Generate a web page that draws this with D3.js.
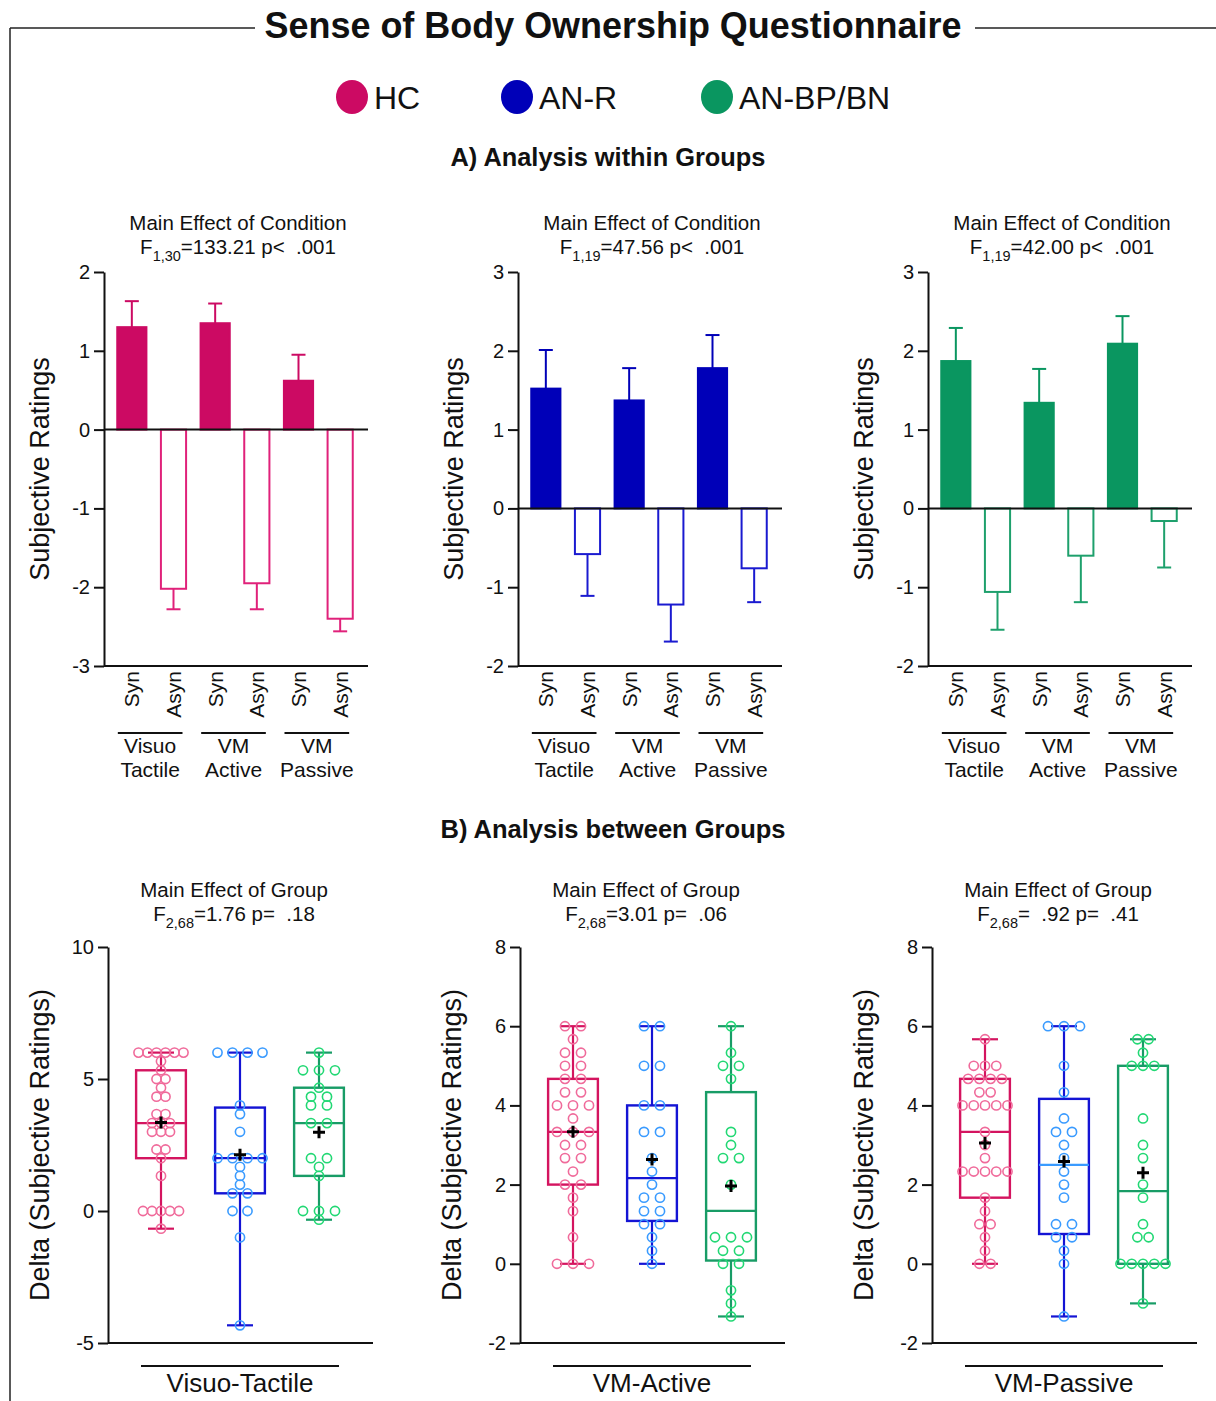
<!DOCTYPE html>
<html>
<head>
<meta charset="utf-8">
<script src="https://cdn.jsdelivr.net/npm/d3@7"></script>
<style>
    body { margin: 0; background: #fff; }
    svg { display: block; font-family: 'Liberation Sans', Arial, sans-serif; }
    text { white-space: pre; fill: #111; }
</style>
</head>
<body>
<svg id="chart" width="1216" height="1401"></svg>
<script>
// ---- data ----
let groups = ['HC', 'AN-R', 'AN-BP/BN']
let conditions = [['Visuo', 'Tactile'], ['VM', 'Active'], ['VM', 'Passive']]
let syncTypes = ['Syn', 'Asyn']

// A) within groups: mean and SEM per group, order VT, VM-Active, VM-Passive
let synMeans = [[1.30, 1.35, 0.62], [1.52, 1.37, 1.78], [1.87, 1.34, 2.09]]
let synSem = [[0.33, 0.25, 0.33], [0.49, 0.41, 0.42], [0.42, 0.43, 0.35]]
let asynMeans = [[-2.02, -1.95, -2.40], [-0.58, -1.22, -0.76], [-1.06, -0.60, -0.16]]
let asynSem = [[0.26, 0.33, 0.16], [0.53, 0.47, 0.43], [0.48, 0.59, 0.59]]
let barDomains = [[-3, 2], [-2, 3], [-2, 3]]
let conditionStats = [['1,30', '=133.21 p<  .001'], ['1,19', '=47.56 p<  .001'], ['1,19', '=42.00 p<  .001']]

// B) between groups: individual deltas (Syn - Asyn)
let deltaConditions = ['Visuo-Tactile', 'VM-Active', 'VM-Passive']
let vtHC = [6, 6, 6, 6, 6, 6, 5.67, 5.33, 5, 5, 4.67, 4.33, 4.33, 3.67, 3.67, 3.33, 3.33, 3.33, 3, 3, 3, 2.33, 2.33, 2, 1.33, 0, 0, 0, 0, 0, -0.67]
let vtANR = [6, 6, 6, 6, 4, 3.67, 3, 2, 2, 2, 2, 1.67, 1.33, 1, 0.67, 0.67, 0, 0, -1, -4.33]
let vtBP = [6, 5.33, 5.33, 5.33, 4.67, 4.33, 4.33, 4, 4, 3.33, 3.33, 2, 2, 1.67, 1.33, 0, 0, 0, -0.33]
let vmaHC = [6, 6, 5.67, 5.33, 5.33, 5, 5, 4.67, 4.67, 4.33, 4.33, 4, 4, 4, 3.67, 3.33, 3.33, 3.33, 3, 3, 2.67, 2.67, 2.33, 2, 2, 1.67, 1.33, 0.67, 0, 0, 0]
let vmaANR = [6, 6, 5, 5, 4, 4, 3.33, 3.33, 2.67, 2.33, 2, 1.67, 1.67, 1.33, 1.33, 1, 1, 0.67, 0.33, 0]
let vmaBP = [6, 5.33, 5, 5, 4.67, 3.33, 3, 2.67, 2.67, 2, 0.67, 0.67, 0.67, 0.33, 0.33, 0, 0, -0.67, -1, -1.33]
let vmpHC = [5.67, 5, 5, 5, 4.67, 4.67, 4.67, 4.67, 4.33, 4.33, 4, 4, 4, 4, 4, 3.33, 3, 2.67, 2.33, 2.33, 2.33, 2.33, 2.33, 1.67, 1.33, 1, 1, 0.67, 0.33, 0, 0]
let vmpANR = [6, 6, 6, 5, 4.33, 3.67, 3.33, 3.33, 3, 2.67, 2.33, 2, 1.67, 1, 1, 0.67, 0.67, 0.33, 0, -1.33]
let vmpBP = [5.67, 5.67, 5.33, 5, 5, 5, 3.67, 3, 2.67, 2, 1.67, 1, 0.67, 0.67, 0, 0, 0, 0, 0, -1]
let deltaData = [[vtHC, vtANR, vtBP], [vmaHC, vmaANR, vmaBP], [vmpHC, vmpANR, vmpBP]]
let deltaDomains = [[-5, 10], [-2, 8], [-2, 8]]
let deltaTicks = [[-5, 0, 5, 10], [-2, 0, 2, 4, 6, 8], [-2, 0, 2, 4, 6, 8]]
let groupStats = [['2,68', '=1.76 p=  .18'], ['2,68', '=3.01 p=  .06'], ['2,68', '=  .92 p=  .41']]

// ---- styles ----
let barFill = ['#cc0a63', '#0000b8', '#0a9660']
let barOpen = ['#e0217a', '#1a1ad0', '#1ea06c']
let boxStroke = ['#d4145f', '#1414d4', '#189c66']
let dotStroke = ['#f06b9b', '#3a9bff', '#22d874']

let svg = d3.select('#chart')

// frame around the figure
svg.append('line').attr('x1', 10).attr('y1', 28).attr('x2', 10).attr('y2', 1401)
    .attr('stroke', '#222').attr('stroke-width', 1.5)
svg.append('line').attr('x1', 10).attr('y1', 28).attr('x2', 255).attr('y2', 28)
    .attr('stroke', '#222').attr('stroke-width', 1.5)
svg.append('line').attr('x1', 975).attr('y1', 28).attr('x2', 1216).attr('y2', 28)
    .attr('stroke', '#222').attr('stroke-width', 1.5)

svg.append('text')
    .attr('x', 613).attr('y', 38)
    .attr('text-anchor', 'middle')
    .attr('font-size', 37).attr('font-weight', 'bold')
    .attr('textLength', 697).attr('lengthAdjust', 'spacingAndGlyphs')
    .text('Sense of Body Ownership Questionnaire')

// legend
let legendX = [352, 517, 717]
let legend = svg.append('g').selectAll('g')
    .data(groups)
    .enter().append('g')
    .attr('transform', (d, i) => `translate(${legendX[i]},97)`)
legend.append('ellipse').attr('rx', 16).attr('ry', 17).attr('fill', (d, i) => barFill[i])
legend.append('text').attr('x', 22).attr('y', 12).attr('font-size', 32).text(d => d)

function sectionTitle(txt, x, y, len) {
    svg.append('text')
        .attr('x', x).attr('y', y)
        .attr('text-anchor', 'middle')
        .attr('font-size', 26).attr('font-weight', 'bold')
        .attr('textLength', len).attr('lengthAdjust', 'spacingAndGlyphs')
        .text(txt)
}
sectionTitle('A) Analysis within Groups', 608, 166, 315)
sectionTitle('B) Analysis between Groups', 613, 838, 345)

function statsTitle(g, cx, y, title, stat) {
    g.append('text').attr('x', cx).attr('y', y)
        .attr('text-anchor', 'middle').attr('font-size', 20.5)
        .text(title)
    let t = g.append('text').attr('x', cx).attr('y', y + 24)
        .attr('text-anchor', 'middle').attr('font-size', 20.5)
    t.append('tspan').text('F')
    t.append('tspan').attr('font-size', 14.5).attr('dy', 7).text(stat[0])
    t.append('tspan').attr('dy', -7).text(stat[1])
}

function styleAxis(a) {
    a.select('.domain').attr('stroke', '#111').attr('stroke-width', 2)
    a.selectAll('.tick line').attr('stroke', '#111').attr('stroke-width', 2)
    a.selectAll('.tick text').attr('font-size', 20).attr('fill', '#111')
        .attr('font-family', "'Liberation Sans', Arial, sans-serif")
}

// ---- A) bar panels ----
let barAxisX = [104, 518, 928]
groups.forEach((grp, gi) => {
    let g = svg.append('g').attr('transform', `translate(${barAxisX[gi]},0)`)
    let y = d3.scaleLinear().domain(barDomains[gi]).range([666, 272])
    let x = d3.scaleBand().domain(d3.range(6)).range([7, 257]).paddingInner(0.3).paddingOuter(0.15)
    let bw = x.bandwidth()

    let rows = []
    conditions.forEach((c, ci) => {
        rows.push({ idx: ci * 2, syn: true, mean: synMeans[gi][ci], sem: synSem[gi][ci] })
        rows.push({ idx: ci * 2 + 1, syn: false, mean: asynMeans[gi][ci], sem: asynSem[gi][ci] })
    })

    statsTitle(g, 134, 230, 'Main Effect of Condition', conditionStats[gi])

    // error bars (one side, away from zero)
    let err = g.selectAll('.err').data(rows).enter().append('g')
        .attr('stroke', d => d.syn ? barFill[gi] : barOpen[gi]).attr('stroke-width', 2)
    err.append('line')
        .attr('x1', d => x(d.idx) + bw / 2).attr('x2', d => x(d.idx) + bw / 2)
        .attr('y1', d => y(d.mean)).attr('y2', d => y(d.mean + (d.mean >= 0 ? d.sem : -d.sem)))
    err.append('line')
        .attr('x1', d => x(d.idx) + bw / 2 - 7).attr('x2', d => x(d.idx) + bw / 2 + 7)
        .attr('y1', d => y(d.mean + (d.mean >= 0 ? d.sem : -d.sem)))
        .attr('y2', d => y(d.mean + (d.mean >= 0 ? d.sem : -d.sem)))

    g.selectAll('.bar').data(rows).enter().append('rect')
        .attr('x', d => d.syn ? x(d.idx) : x(d.idx) + 2)
        .attr('width', d => d.syn ? bw : bw - 4)
        .attr('y', d => y(Math.max(0, d.mean)))
        .attr('height', d => Math.abs(y(d.mean) - y(0)))
        .attr('fill', d => d.syn ? barFill[gi] : '#fff')
        .attr('stroke', d => d.syn ? barFill[gi] : barOpen[gi])
        .attr('stroke-width', 2)

    // zero line and bottom line
    g.append('line').attr('x1', 0).attr('x2', 264).attr('y1', y(0)).attr('y2', y(0))
        .attr('stroke', '#111').attr('stroke-width', 2)
    g.append('line').attr('x1', 0).attr('x2', 264).attr('y1', y(barDomains[gi][0])).attr('y2', y(barDomains[gi][0]))
        .attr('stroke', '#111').attr('stroke-width', 2)

    let yAxis = g.append('g')
        .call(d3.axisLeft(y).ticks(5).tickSize(10).tickSizeOuter(0).tickPadding(4).tickFormat(d => String(d)))
    styleAxis(yAxis)

    g.selectAll('.lab').data(rows).enter().append('text')
        .attr('transform', d => `translate(${x(d.idx) + bw / 2},671) rotate(-90)`)
        .attr('text-anchor', 'end').attr('dy', '0.35em')
        .attr('font-size', 21)
        .text(d => d.syn ? syncTypes[0] : syncTypes[1])

    conditions.forEach((c, ci) => {
        let x1 = x(ci * 2) + bw / 2 - 14, x2 = x(ci * 2 + 1) + bw / 2 + 9
        g.append('line').attr('x1', x1).attr('x2', x2).attr('y1', 733).attr('y2', 733)
            .attr('stroke', '#111').attr('stroke-width', 2)
        c.forEach((line, li) => {
            g.append('text').attr('x', (x1 + x2) / 2).attr('y', 753 + li * 24)
                .attr('text-anchor', 'middle').attr('font-size', 21).text(line)
        })
    })

    g.append('text')
        .attr('transform', 'translate(-64,469) rotate(-90)')
        .attr('text-anchor', 'middle').attr('dy', '0.35em')
        .attr('font-size', 27).text('Subjective Ratings')
})

// ---- B) box panels ----
// quartiles the GraphPad way: position (n + 1) * p
function quartile(sorted, p) {
    let pos = (sorted.length + 1) * p
    let lo = Math.floor(pos), frac = pos - lo
    if (lo < 1) return sorted[0]
    if (lo >= sorted.length) return sorted[sorted.length - 1]
    return sorted[lo - 1] + frac * (sorted[lo] - sorted[lo - 1])
}

let boxAxisX = [108, 520, 932]
deltaConditions.forEach((cond, ci) => {
    let g = svg.append('g').attr('transform', `translate(${boxAxisX[ci]},0)`)
    let y = d3.scaleLinear().domain(deltaDomains[ci]).range([1343, 947])
    let x = d3.scaleBand().domain(groups).range([13.5, 250.5]).paddingInner(0.37).paddingOuter(0.185)
    let bw = x.bandwidth()

    statsTitle(g, 126, 897, 'Main Effect of Group', groupStats[ci])

    groups.forEach((grp, gi) => {
        let vals = deltaData[ci][gi].slice().sort((a, b) => a - b)
        let q1 = quartile(vals, 0.25), med = quartile(vals, 0.5), q3 = quartile(vals, 0.75)
        let [lo, hi] = d3.extent(vals)
        let mean = d3.mean(vals)
        let cx = x(grp) + bw / 2
        let col = boxStroke[gi]
        let medCol = (ci === 2 && gi === 1) ? dotStroke[1] : col

        // whiskers
        g.append('line').attr('x1', cx).attr('x2', cx).attr('y1', y(hi)).attr('y2', y(q3))
            .attr('stroke', col).attr('stroke-width', 2.2)
        g.append('line').attr('x1', cx).attr('x2', cx).attr('y1', y(q1)).attr('y2', y(lo))
            .attr('stroke', col).attr('stroke-width', 2.2)
        ;[lo, hi].forEach(v => {
            g.append('line').attr('x1', cx - 13).attr('x2', cx + 13).attr('y1', y(v)).attr('y2', y(v))
                .attr('stroke', col).attr('stroke-width', 2.2)
        })
        g.append('rect').attr('x', x(grp)).attr('width', bw)
            .attr('y', y(q3)).attr('height', y(q1) - y(q3))
            .attr('fill', 'none').attr('stroke', col).attr('stroke-width', 2.4)
        g.append('line').attr('x1', x(grp)).attr('x2', x(grp) + bw).attr('y1', y(med)).attr('y2', y(med))
            .attr('stroke', medCol).attr('stroke-width', 2.2)

        // points, spread sideways in rows of equal value
        let counts = d3.rollup(vals, v => v.length, d => d)
        let maxN = d3.max(counts.values())
        let spacing = maxN > 1 ? Math.min(16, 45 / (maxN - 1)) : 0
        let pts = []
        counts.forEach((n, v) => {
            d3.range(n).forEach(k => pts.push({ v: v, dx: (k - (n - 1) / 2) * spacing }))
        })
        g.selectAll(null).data(pts).enter().append('circle')
            .attr('cx', d => cx + d.dx).attr('cy', d => y(d.v)).attr('r', 4.6)
            .attr('fill', 'none').attr('stroke', dotStroke[gi]).attr('stroke-width', 1.6)

        g.append('path')
            .attr('d', `M${cx - 6},${y(mean)}H${cx + 6}M${cx},${y(mean) - 6}V${y(mean) + 6}`)
            .attr('stroke', '#000').attr('stroke-width', 3)
    })

    g.append('line').attr('x1', 0).attr('x2', 265).attr('y1', 1343).attr('y2', 1343)
        .attr('stroke', '#111').attr('stroke-width', 2)
    let yAxis = g.append('g')
        .call(d3.axisLeft(y).tickValues(deltaTicks[ci]).tickSize(10).tickSizeOuter(0).tickPadding(4).tickFormat(d => String(d)))
    styleAxis(yAxis)

    g.append('line').attr('x1', 33).attr('x2', 231).attr('y1', 1366).attr('y2', 1366)
        .attr('stroke', '#111').attr('stroke-width', 2)
    g.append('text').attr('x', 132).attr('y', 1392)
        .attr('text-anchor', 'middle').attr('font-size', 26).text(cond)

    g.append('text')
        .attr('transform', 'translate(-68,1145) rotate(-90)')
        .attr('text-anchor', 'middle').attr('dy', '0.35em')
        .attr('font-size', 27).text('Delta (Subjective Ratings)')
})
</script>
</body>
</html>
